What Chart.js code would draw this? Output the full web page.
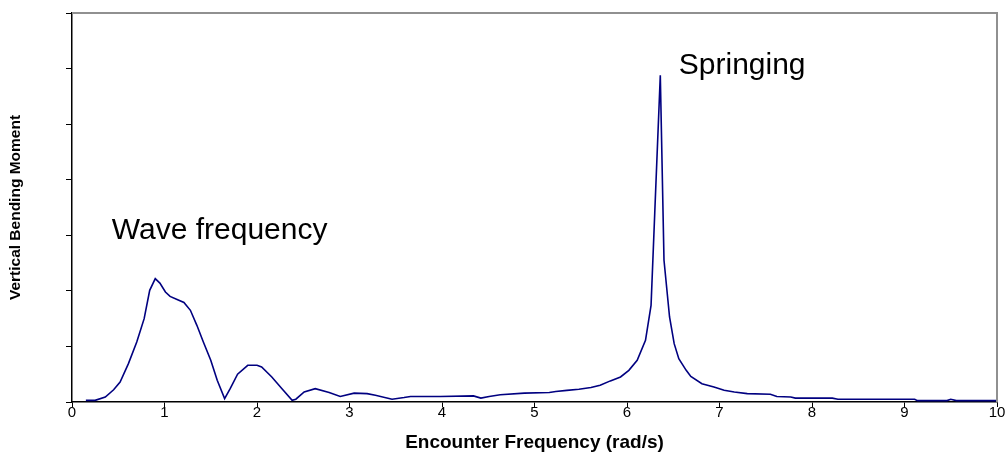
<!DOCTYPE html>
<html lang="en">
<head>
  <meta charset="UTF-8">
  <title>Vertical Bending Moment</title>
  <script src="https://cdn.jsdelivr.net/npm/chart.js"></script>
</head>
<style>
  body { margin: 0; background: #fff; }
  .wrap { width: 1008px; height: 472px; }
</style>
<body>

<div class="wrap">
  <canvas id="vbmChart" width="1008" height="472"></canvas>
</div>

<script>
  // values
  const freq = [0.15, 0.25, 0.36, 0.45, 0.52, 0.61, 0.70, 0.78, 0.84, 0.90, 0.95, 1.01, 1.06, 1.13, 1.21, 1.28,
    1.35, 1.42, 1.50, 1.57, 1.65, 1.71, 1.79, 1.90, 2.00, 2.05, 2.16, 2.27, 2.38, 2.42, 2.51, 2.63, 2.78, 2.90,
    3.05, 3.19, 3.28, 3.46, 3.59, 3.66, 3.98, 4.34, 4.42, 4.51, 4.63, 4.89, 5.16, 5.23, 5.35, 5.48, 5.61, 5.71,
    5.82, 5.93, 6.02, 6.11, 6.20, 6.26, 6.30, 6.36, 6.40, 6.46, 6.51, 6.56, 6.64, 6.69, 6.81, 6.94, 7.05, 7.16,
    7.30, 7.55, 7.62, 7.77, 7.82, 8.22, 8.28, 9.11, 9.14, 9.46, 9.50, 9.56, 10.0];
  const moment = [0.03, 0.03, 0.09, 0.22, 0.36, 0.69, 1.08, 1.50, 2.01, 2.22, 2.14, 1.98, 1.90, 1.85, 1.79, 1.65,
    1.38, 1.08, 0.75, 0.39, 0.06, 0.24, 0.50, 0.66, 0.66, 0.63, 0.45, 0.24, 0.03, 0.05, 0.18, 0.24, 0.17, 0.10,
    0.16, 0.15, 0.12, 0.05, 0.08, 0.10, 0.10, 0.11, 0.07, 0.10, 0.13, 0.16, 0.17, 0.19, 0.21, 0.23, 0.26, 0.30,
    0.38, 0.45, 0.57, 0.75, 1.11, 1.74, 3.40, 5.88, 2.55, 1.53, 1.05, 0.78, 0.57, 0.46, 0.33, 0.27, 0.21, 0.18,
    0.15, 0.14, 0.10, 0.09, 0.07, 0.07, 0.05, 0.05, 0.025, 0.025, 0.05, 0.025, 0.025];
  const xTicks = [0, 1, 2, 3, 4, 5, 6, 7, 8, 9, 10];

  // annotation texts, anchored in data units
  const notes = [
    { text: 'Wave frequency', x: 0.43, y: 2.93 },
    { text: 'Springing', x: 6.56, y: 5.91 }
  ];

  const fontFamily = "'Liberation Sans', Arial, sans-serif";

  // grey frame on top and right of the plot, plus the text notes
  const framePlugin = {
    id: 'frame',
    afterDraw(chart) {
      const { ctx, chartArea: a, scales } = chart;
      ctx.save();
      ctx.strokeStyle = '#909090';
      ctx.lineWidth = 2;
      ctx.beginPath();
      ctx.moveTo(a.left, a.top);
      ctx.lineTo(a.right, a.top);
      ctx.lineTo(a.right, a.bottom);
      ctx.stroke();
      ctx.fillStyle = '#000';
      ctx.font = '30px ' + fontFamily;
      ctx.textBaseline = 'alphabetic';
      notes.forEach(n => {
        ctx.fillText(n.text, scales.x.getPixelForValue(n.x), scales.y.getPixelForValue(n.y));
      });
      ctx.restore();
    }
  };

  const ctx = document.getElementById('vbmChart').getContext('2d');
  const vbmChart = new Chart(ctx, {
    type: 'line',
    data: {
      datasets: [{
        data: freq.map((f, i) => ({ x: f, y: moment[i] })),
        borderColor: '#000080',
        borderWidth: 1.6,
        pointRadius: 0,
        tension: 0,
        fill: false
      }]
    },
    options: {
      responsive: false,
      animation: false,
      layout: { padding: { top: 13, right: 11, left: 0, bottom: 0 } },
      plugins: {
        legend: { display: false },
        tooltip: { enabled: false }
      },
      scales: {
        x: {
          type: 'linear',
          min: 0,
          max: 10,
          afterBuildTicks(scale) {
            scale.ticks = xTicks.map(v => ({ value: v }));
          },
          afterFit(scale) { scale.height = 70; },
          grid: { drawOnChartArea: false, drawTicks: true, tickLength: 5, color: '#000' },
          border: { display: true, color: '#000', width: 1.5 },
          ticks: { color: '#000', padding: -3, font: { family: fontFamily, size: 15 } },
          title: {
            display: true,
            text: 'Encounter Frequency (rad/s)',
            color: '#000',
            font: { family: fontFamily, size: 19, weight: 'bold' },
            padding: { top: 0, bottom: 18 }
          }
        },
        y: {
          min: 0,
          max: 7,
          afterFit(scale) { scale.width = 72; },
          grid: { drawOnChartArea: false, drawTicks: true, tickLength: 6, color: '#000' },
          border: { display: true, color: '#000', width: 1.5 },
          ticks: { display: false, stepSize: 1 },
          title: {
            display: true,
            text: 'Vertical Bending Moment',
            color: '#000',
            font: { family: fontFamily, size: 15.5, weight: 'bold' },
            padding: { top: 6, bottom: 0 }
          }
        }
      }
    },
    plugins: [framePlugin]
  });
</script>
</body>
</html>
